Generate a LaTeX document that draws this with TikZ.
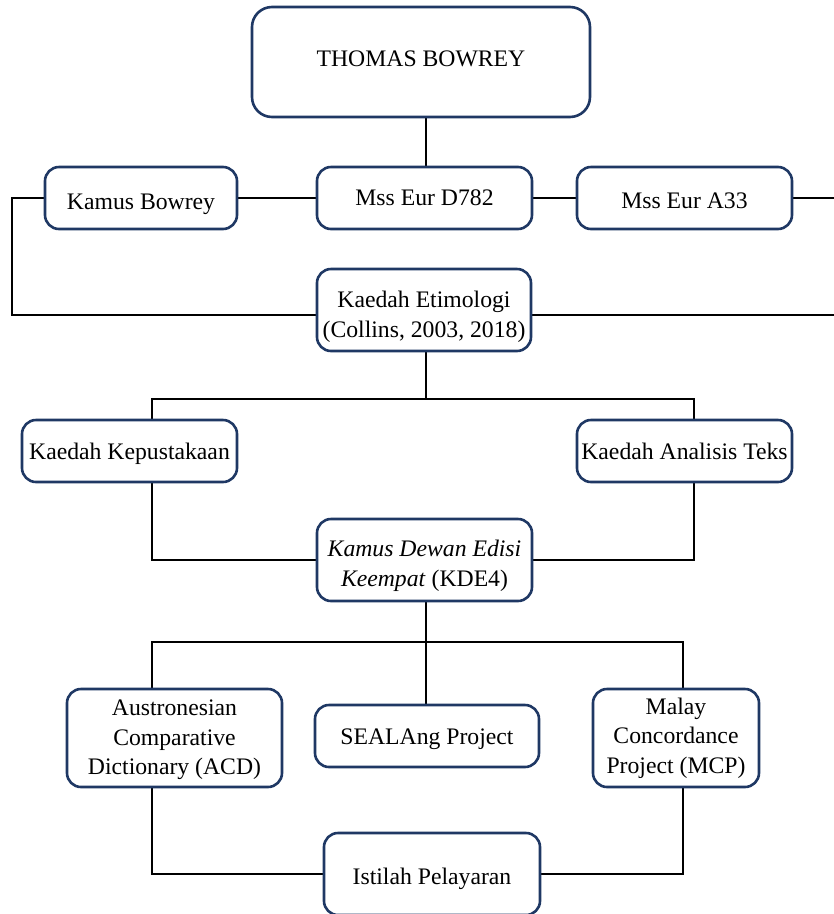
\documentclass[tikz,border=0pt]{standalone}
\usepackage{fontspec}
\setmainfont{Liberation Serif}
\usetikzlibrary{backgrounds}
\definecolor{boxblue}{RGB}{31,56,100}
\tikzset{
  box/.style={draw=boxblue, line width=2.6pt, fill=white, rounded corners=14pt, inner sep=0pt},
  txt/.style={align=center, inner sep=0pt, font=\fontsize{23.7}{29.5}\selectfont},
  link/.style={draw=black, line width=2.8pt}
}
\begin{document}
\begin{tikzpicture}[x=1pt,y=-1pt]
\useasboundingbox (0,0) rectangle (834,914);
\node[box, rounded corners=20pt, minimum width=338pt, minimum height=110pt] (tb) at (421,62) {};
\node[box, minimum width=192pt, minimum height=62pt] (kb) at (141,198) {};
\node[box, minimum width=215pt, minimum height=62pt] (d782) at (424.5,198) {};
\node[box, minimum width=215pt, minimum height=62pt] (a33) at (684.5,198) {};
\node[box, minimum width=214pt, minimum height=82pt] (ke) at (424,310) {};
\node[box, minimum width=215pt, minimum height=62pt] (kk) at (129.5,451) {};
\node[box, minimum width=215pt, minimum height=62pt] (kat) at (684.5,451) {};
\node[box, minimum width=215pt, minimum height=82pt] (kde) at (424.5,560) {};
\node[box, minimum width=215pt, minimum height=98pt] (acd) at (174.5,738) {};
\node[box, minimum width=224pt, minimum height=62pt] (sea) at (427,736) {};
\node[box, minimum width=166pt, minimum height=98pt] (mcp) at (676,738) {};
\node[box, minimum width=216pt, minimum height=82pt] (ip) at (432,874) {};

\node[txt] (t-tb) at ([yshift=3pt]tb.center) {THOMAS BOWREY};
\node[txt] (t-kb) at ([yshift=-6pt]kb.center) {Kamus Bowrey};
\node[txt] (t-d782) at (d782.center) {Mss Eur D782};
\node[txt] (t-a33) at ([yshift=-3pt]a33.center) {Mss Eur A33};
\node[txt] (t-ke) at ([yshift=-7pt]ke.center) {Kaedah Etimologi\\(Collins, 2003, 2018)};
\node[txt] (t-kk) at ([yshift=-3pt]kk.center) {Kaedah Kepustakaan};
\node[txt] (t-kat) at (kat.center) {Kaedah Analisis Teks};
\node[txt] (t-kde) at ([yshift=-6pt]kde.center) {\textit{Kamus Dewan Edisi}\\\textit{Keempat} (KDE4)};
\node[txt] (t-acd) at ([yshift=-2pt]acd.center) {Austronesian\\Comparative\\Dictionary (ACD)};
\node[txt] (t-sea) at ([yshift=-3pt]sea.center) {SEALAng Project};
\node[txt] (t-mcp) at (mcp.center) {Malay\\Concordance\\Project (MCP)};
\node[txt] (t-ip) at ([yshift=-5pt]ip.center) {Istilah Pelayaran};

\coordinate (lv) at (12,250);
\coordinate (rv) at (850,250);
\coordinate (b1) at (426,399);
\coordinate (b1l) at (152,399);
\coordinate (b1r) at (694,399);
\coordinate (b2) at (426,642);
\coordinate (b2l) at (152,642);
\coordinate (b2r) at (683,642);

\begin{scope}[on background layer]
\draw[link] (b1 |- d782.north) -- (b1 |- tb.south);
\draw[link] (kb.east) -- (d782.west);
\draw[link] (d782.east) -- (a33.west);
\draw[link] (kb.west) -| (lv) |- ([yshift=-5pt]ke.west);
\draw[link] (a33.east) -| (rv) |- ([yshift=-5pt]ke.east);
\draw[link] (b1 |- ke.south) -- (b1);
\draw[link] (kde.west) -| (b1l) -- (b1r) |- (kde.east);
\draw[link] (b2 |- kde.south) -- (b2);
\draw[link] (b2) -- (b2 |- sea.north);
\draw[link] (ip.west) -| (b2l) -- (b2r) |- (ip.east);
\end{scope}
\end{tikzpicture}
\end{document}
